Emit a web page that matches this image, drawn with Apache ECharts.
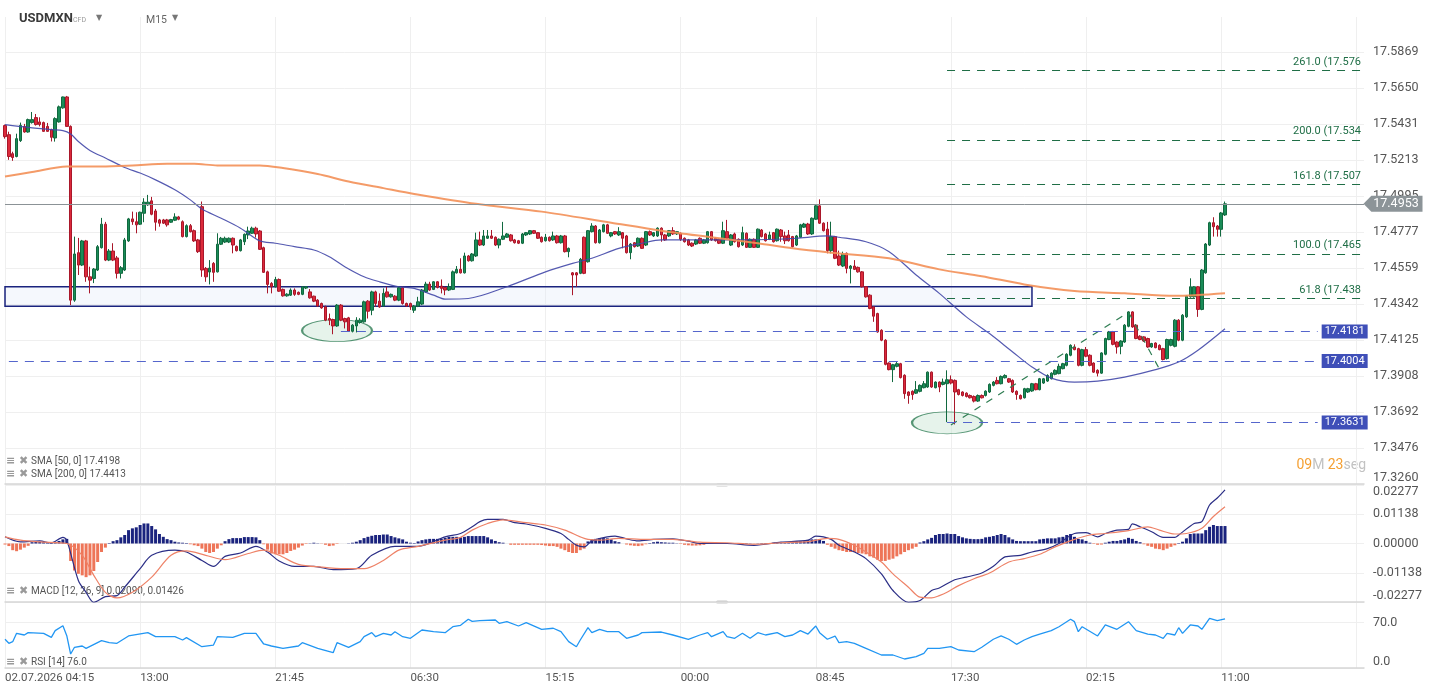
<!DOCTYPE html>
<html>
<head>
<meta charset="utf-8">
<script src="https://cdn.jsdelivr.net/npm/echarts@6/dist/echarts.min.js"></script>
<style>
html, body { margin: 0; padding: 0; background: #fff; }
#chart { width: 1434px; height: 694px; }
</style>
</head>
<body>
<div id="chart"></div>
<script>
// USDMXN CFD, M15
var timeLabels = ['02.07.2026 04:15', '13:00', '21:45', '06:30', '15:15', '00:00', '08:45', '17:30', '02:15', '11:00', '19:45'];
var priceTicks = ['17.3260', '17.3476', '17.3692', '17.3908', '17.4125', '17.4342', '17.4559', '17.4777', '17.4995', '17.5213', '17.5431', '17.5650', '17.5869'];
var macdTicks = ['-0.02277', '-0.01138', '0.00000', '0.01138', '0.02277'];
var rsiTicks = ['0.0', '70.0'];

// open, close, low, high
var candles = [
[17.5426,17.5359,17.5347,17.5432],[17.5371,17.5239,17.5219,17.5389],[17.5256,17.5233,17.5213,17.5268],[17.5239,17.5347,17.5234,17.5377],
[17.5335,17.5427,17.5327,17.5444],[17.5421,17.5387,17.5383,17.5436],[17.5387,17.5462,17.5383,17.5468],[17.5444,17.5462,17.5438,17.5508],
[17.5474,17.5432,17.5426,17.5496],[17.5448,17.5432,17.5421,17.5476],[17.5444,17.5391,17.5389,17.5450],[17.5421,17.5391,17.5389,17.5442],
[17.5401,17.5355,17.5330,17.5407],[17.5351,17.5468,17.5329,17.5476],[17.5448,17.5539,17.5444,17.5547],[17.5533,17.5599,17.5528,17.5601],
[17.5599,17.5421,17.5419,17.5605],[17.5421,17.4371,17.4341,17.5427],[17.4371,17.4650,17.4361,17.4755],[17.4658,17.4583,17.4523,17.4747],
[17.4583,17.4729,17.4577,17.4735],[17.4729,17.4512,17.4482,17.4735],[17.4512,17.4492,17.4412,17.4573],[17.4502,17.4559,17.4474,17.4565],
[17.4553,17.4694,17.4547,17.4704],[17.4688,17.4830,17.4683,17.4868],[17.4830,17.4613,17.4607,17.4844],[17.4613,17.4668,17.4607,17.4680],
[17.4668,17.4613,17.4607,17.4715],[17.4626,17.4533,17.4502,17.4638],[17.4533,17.4567,17.4502,17.4577],[17.4553,17.4735,17.4547,17.4747],
[17.4729,17.4862,17.4723,17.4868],[17.4862,17.4845,17.4826,17.4906],[17.4845,17.4826,17.4775,17.4902],[17.4830,17.4902,17.4826,17.4906],
[17.4896,17.4963,17.4842,17.4987],[17.4947,17.4963,17.4941,17.5007],[17.4971,17.4890,17.4884,17.4995],[17.4910,17.4842,17.4791,17.4922],
[17.4856,17.4836,17.4815,17.4862],[17.4856,17.4836,17.4831,17.4862],[17.4856,17.4826,17.4815,17.4862],[17.4842,17.4858,17.4838,17.4862],
[17.4854,17.4874,17.4849,17.4896],[17.4874,17.4860,17.4854,17.4880],[17.4845,17.4755,17.4750,17.4853],[17.4755,17.4821,17.4750,17.4829],
[17.4821,17.4785,17.4780,17.4831],[17.4791,17.4729,17.4723,17.4798],[17.4735,17.4664,17.4656,17.4741],[17.4936,17.4553,17.4512,17.4967],
[17.4563,17.4512,17.4482,17.4571],[17.4541,17.4565,17.4466,17.4613],[17.4593,17.4539,17.4482,17.4601],[17.4542,17.4709,17.4538,17.4775],
[17.4709,17.4745,17.4704,17.4753],[17.4722,17.4745,17.4716,17.4755],[17.4722,17.4745,17.4716,17.4750],[17.4745,17.4704,17.4654,17.4750],
[17.4696,17.4670,17.4665,17.4701],[17.4670,17.4735,17.4665,17.4741],[17.4724,17.4769,17.4704,17.4774],[17.4765,17.4789,17.4740,17.4815],
[17.4775,17.4806,17.4771,17.4815],[17.4806,17.4771,17.4749,17.4815],[17.4789,17.4678,17.4674,17.4795],[17.4688,17.4539,17.4535,17.4694],
[17.4542,17.4466,17.4412,17.4549],[17.4472,17.4452,17.4412,17.4480],[17.4452,17.4496,17.4447,17.4512],[17.4496,17.4425,17.4421,17.4502],
[17.4436,17.4397,17.4392,17.4441],[17.4397,17.4407,17.4392,17.4413],[17.4401,17.4432,17.4396,17.4442],[17.4432,17.4406,17.4397,17.4442],
[17.4418,17.4406,17.4401,17.4423],[17.4406,17.4452,17.4401,17.4456],[17.4444,17.4452,17.4438,17.4456],[17.4421,17.4385,17.4380,17.4438],
[17.4395,17.4365,17.4359,17.4398],[17.4371,17.4336,17.4331,17.4377],[17.4351,17.4324,17.4319,17.4356],[17.4330,17.4250,17.4244,17.4338],
[17.4260,17.4250,17.4220,17.4290],[17.4254,17.4215,17.4165,17.4259],[17.4215,17.4341,17.4210,17.4347],[17.4341,17.4250,17.4244,17.4347],
[17.4260,17.4240,17.4200,17.4265],[17.4264,17.4183,17.4179,17.4270],[17.4183,17.4220,17.4176,17.4226],[17.4215,17.4250,17.4176,17.4268],
[17.4236,17.4250,17.4229,17.4262],[17.4240,17.4361,17.4235,17.4368],[17.4365,17.4304,17.4260,17.4371],[17.4310,17.4421,17.4280,17.4428],
[17.4421,17.4351,17.4330,17.4428],[17.4365,17.4330,17.4325,17.4412],[17.4336,17.4412,17.4331,17.4442],[17.4421,17.4391,17.4386,17.4452],
[17.4391,17.4406,17.4386,17.4411],[17.4395,17.4371,17.4365,17.4401],[17.4371,17.4446,17.4365,17.4456],[17.4446,17.4351,17.4344,17.4453],
[17.4351,17.4336,17.4331,17.4356],[17.4351,17.4330,17.4312,17.4356],[17.4310,17.4335,17.4294,17.4341],[17.4335,17.4361,17.4329,17.4391],
[17.4347,17.4432,17.4341,17.4438],[17.4421,17.4468,17.4416,17.4482],[17.4468,17.4432,17.4427,17.4482],[17.4436,17.4482,17.4432,17.4486],
[17.4482,17.4448,17.4442,17.4486],[17.4456,17.4442,17.4412,17.4496],[17.4448,17.4432,17.4401,17.4453],[17.4432,17.4452,17.4426,17.4472],
[17.4436,17.4542,17.4432,17.4550],[17.4536,17.4557,17.4532,17.4577],[17.4557,17.4536,17.4532,17.4624],[17.4536,17.4638,17.4532,17.4658],
[17.4638,17.4609,17.4604,17.4644],[17.4609,17.4650,17.4604,17.4656],[17.4638,17.4735,17.4632,17.4779],[17.4735,17.4704,17.4698,17.4785],
[17.4704,17.4759,17.4698,17.4795],[17.4745,17.4759,17.4741,17.4795],[17.4759,17.4745,17.4741,17.4795],[17.4751,17.4704,17.4698,17.4756],
[17.4704,17.4739,17.4684,17.4744],[17.4739,17.4759,17.4734,17.4844],[17.4751,17.4771,17.4747,17.4777],[17.4765,17.4730,17.4725,17.4771],
[17.4735,17.4718,17.4713,17.4741],[17.4730,17.4715,17.4710,17.4735],[17.4715,17.4771,17.4710,17.4777],[17.4765,17.4779,17.4759,17.4783],
[17.4771,17.4791,17.4765,17.4795],[17.4791,17.4775,17.4771,17.4795],[17.4779,17.4745,17.4741,17.4783],[17.4751,17.4724,17.4719,17.4756],
[17.4730,17.4751,17.4725,17.4771],[17.4751,17.4730,17.4725,17.4756],[17.4735,17.4759,17.4729,17.4785],[17.4759,17.4718,17.4713,17.4765],
[17.4718,17.4759,17.4713,17.4765],[17.4759,17.4664,17.4659,17.4765],[17.4664,17.4684,17.4630,17.4689],[17.4536,17.4523,17.4401,17.4541],
[17.4536,17.4523,17.4452,17.4541],[17.4533,17.4618,17.4528,17.4626],[17.4751,17.4533,17.4528,17.4756],[17.4603,17.4791,17.4598,17.4795],
[17.4785,17.4819,17.4780,17.4836],[17.4819,17.4718,17.4713,17.4825],[17.4718,17.4795,17.4713,17.4801],[17.4785,17.4826,17.4780,17.4832],
[17.4826,17.4775,17.4771,17.4832],[17.4759,17.4779,17.4751,17.4783],[17.4785,17.4771,17.4765,17.4789],[17.4765,17.4785,17.4759,17.4812],
[17.4779,17.4745,17.4684,17.4783],[17.4759,17.4658,17.4653,17.4765],[17.4658,17.4710,17.4618,17.4716],[17.4718,17.4694,17.4689,17.4722],
[17.4698,17.4745,17.4692,17.4750],[17.4745,17.4684,17.4680,17.4750],[17.4704,17.4785,17.4698,17.4789],[17.4785,17.4765,17.4759,17.4792],
[17.4759,17.4779,17.4753,17.4783],[17.4759,17.4806,17.4753,17.4811],[17.4806,17.4765,17.4724,17.4811],[17.4765,17.4735,17.4729,17.4771],
[17.4759,17.4791,17.4753,17.4795],[17.4791,17.4771,17.4765,17.4812],[17.4771,17.4785,17.4765,17.4789],[17.4775,17.4739,17.4729,17.4780],
[17.4745,17.4724,17.4719,17.4750],[17.4735,17.4704,17.4698,17.4741],[17.4715,17.4698,17.4692,17.4720],[17.4710,17.4735,17.4704,17.4741],
[17.4745,17.4715,17.4710,17.4750],[17.4715,17.4735,17.4710,17.4741],[17.4718,17.4785,17.4713,17.4789],[17.4785,17.4735,17.4729,17.4789],
[17.4745,17.4730,17.4725,17.4750],[17.4739,17.4715,17.4710,17.4744],[17.4715,17.4791,17.4710,17.4845],[17.4785,17.4745,17.4741,17.4856],
[17.4704,17.4765,17.4698,17.4771],[17.4771,17.4724,17.4719,17.4779],[17.4739,17.4694,17.4689,17.4744],[17.4704,17.4779,17.4698,17.4815],
[17.4775,17.4690,17.4686,17.4780],[17.4690,17.4739,17.4686,17.4744],[17.4739,17.4690,17.4686,17.4744],[17.4690,17.4800,17.4686,17.4804],
[17.4795,17.4755,17.4750,17.4801],[17.4771,17.4730,17.4725,17.4777],[17.4739,17.4765,17.4734,17.4785],[17.4779,17.4724,17.4719,17.4783],
[17.4730,17.4800,17.4725,17.4804],[17.4795,17.4755,17.4724,17.4801],[17.4759,17.4730,17.4710,17.4785],[17.4765,17.4730,17.4725,17.4795],
[17.4755,17.4694,17.4689,17.4759],[17.4704,17.4759,17.4698,17.4765],[17.4751,17.4826,17.4747,17.4832],[17.4812,17.4831,17.4807,17.4838],
[17.4831,17.4771,17.4765,17.4838],[17.4771,17.4866,17.4765,17.4871],[17.4860,17.4941,17.4856,17.4947],[17.4941,17.4836,17.4831,17.4980],
[17.4836,17.4791,17.4786,17.4841],[17.4800,17.4670,17.4654,17.4844],[17.4670,17.4755,17.4654,17.4845],[17.4755,17.4624,17.4619,17.4759],
[17.4638,17.4583,17.4577,17.4670],[17.4577,17.4650,17.4571,17.4664],[17.4654,17.4563,17.4533,17.4659],[17.4563,17.4577,17.4472,17.4583],
[17.4577,17.4557,17.4553,17.4613],[17.4569,17.4542,17.4537,17.4574],[17.4542,17.4452,17.4447,17.4547],[17.4452,17.4391,17.4386,17.4456],
[17.4401,17.4321,17.4316,17.4407],[17.4330,17.4274,17.4240,17.4335],[17.4290,17.4179,17.4174,17.4295],[17.4189,17.4129,17.4123,17.4195],
[17.4129,17.3983,17.3977,17.4135],[17.3991,17.3951,17.3947,17.3995],[17.3951,17.3981,17.3876,17.3986],[17.3971,17.3987,17.3965,17.3997],
[17.3987,17.3903,17.3898,17.3992],[17.3917,17.3806,17.3775,17.3923],[17.3816,17.3795,17.3745,17.3820],[17.3820,17.3800,17.3769,17.3826],
[17.3809,17.3830,17.3804,17.3882],[17.3820,17.3856,17.3814,17.3862],[17.3842,17.3866,17.3838,17.3882],[17.3846,17.3936,17.3841,17.3940],
[17.3936,17.3846,17.3841,17.3940],[17.3842,17.3876,17.3838,17.3880],[17.3876,17.3846,17.3815,17.3880],[17.3862,17.3876,17.3856,17.3897],
[17.3866,17.3890,17.3634,17.3947],[17.3890,17.3870,17.3862,17.3916],[17.3886,17.3816,17.3620,17.3892],[17.3830,17.3801,17.3795,17.3835],
[17.3816,17.3795,17.3789,17.3820],[17.3809,17.3789,17.3783,17.3814],[17.3795,17.3781,17.3777,17.3801],[17.3789,17.3761,17.3753,17.3795],
[17.3761,17.3795,17.3756,17.3801],[17.3795,17.3781,17.3777,17.3801],[17.3795,17.3821,17.3789,17.3826],[17.3816,17.3862,17.3810,17.3868],
[17.3856,17.3876,17.3850,17.3882],[17.3886,17.3866,17.3862,17.3906],[17.3866,17.3910,17.3862,17.3916],[17.3902,17.3916,17.3898,17.3923],
[17.3896,17.3876,17.3871,17.3901],[17.3886,17.3816,17.3810,17.3892],[17.3820,17.3801,17.3769,17.3826],[17.3795,17.3775,17.3771,17.3801],
[17.3781,17.3836,17.3777,17.3841],[17.3816,17.3836,17.3810,17.3841],[17.3822,17.3866,17.3817,17.3871],[17.3866,17.3830,17.3826,17.3871],
[17.3830,17.3896,17.3826,17.3901],[17.3870,17.3896,17.3865,17.3901],[17.3882,17.3916,17.3877,17.3923],[17.3896,17.3930,17.3892,17.3935],
[17.3923,17.3947,17.3917,17.3953],[17.3927,17.3971,17.3923,17.3987],[17.3957,17.3987,17.3953,17.3992],[17.3977,17.4044,17.3971,17.4050],
[17.4038,17.4098,17.4032,17.4104],[17.4088,17.4072,17.4068,17.4104],[17.4078,17.3977,17.3971,17.4083],[17.3977,17.4072,17.3971,17.4077],
[17.4072,17.4032,17.4026,17.4088],[17.4038,17.3977,17.3971,17.4044],[17.3991,17.3936,17.3931,17.3995],[17.3947,17.3930,17.3910,17.3953],
[17.3930,17.4052,17.3926,17.4056],[17.4044,17.4139,17.4038,17.4144],[17.4133,17.4179,17.4129,17.4185],[17.4179,17.4104,17.4098,17.4185],
[17.4118,17.4088,17.4048,17.4122],[17.4092,17.4124,17.4044,17.4129],[17.4118,17.4220,17.4113,17.4226],[17.4213,17.4300,17.4207,17.4304],
[17.4300,17.4209,17.4204,17.4304],[17.4220,17.4139,17.4135,17.4226],[17.4153,17.4133,17.4129,17.4159],[17.4149,17.4124,17.4119,17.4153],
[17.4139,17.4088,17.4083,17.4144],[17.4088,17.4109,17.4083,17.4113],[17.4112,17.4084,17.4080,17.4116],[17.4098,17.4072,17.4068,17.4104],
[17.4078,17.4012,17.4007,17.4083],[17.4018,17.4133,17.4012,17.4138],[17.4098,17.4133,17.4092,17.4138],[17.4092,17.4250,17.4086,17.4256],
[17.4250,17.4129,17.4123,17.4256],[17.4129,17.4280,17.4123,17.4287],[17.4270,17.4395,17.4264,17.4401],[17.4391,17.4452,17.4386,17.4503],
[17.4391,17.4452,17.4386,17.4456],[17.4452,17.4315,17.4270,17.4456],[17.4315,17.4553,17.4310,17.4559],[17.4536,17.4710,17.4531,17.4716],
[17.4704,17.4839,17.4698,17.4845],[17.4839,17.4815,17.4755,17.4872],[17.4819,17.4799,17.4755,17.4825],[17.4799,17.4898,17.4755,17.4904],
[17.4886,17.4953,17.4880,17.4967]
];

// medias moviles [vela, valor]
var sma50 = [[0,17.5432],[6,17.5415],[12,17.5401],[15,17.5395],[17,17.5375],[19,17.5330],[22,17.5276],[26,17.5230],[31,17.5173],[35,17.5139],
[39,17.5098],[44,17.5038],[48,17.4977],[51,17.4922],[56,17.4866],[61,17.4806],[66,17.4729],[70,17.4715],[75,17.4694],[80,17.4674],
[84,17.4633],[88,17.4573],[93,17.4512],[97,17.4482],[102,17.4452],[106,17.4442],[111,17.4401],[114,17.4377],[120,17.4381],[130,17.4452],
[140,17.4542],[147,17.4593],[152,17.4624],[159,17.4684],[165,17.4715],[170,17.4735],[176,17.4735],[183,17.4735],[191,17.4735],[200,17.4739],
[205,17.4745],[213,17.4759],[216,17.4751],[223,17.4724],[229,17.4664],[236,17.4523],[242,17.4412],[249,17.4270],[255,17.4169],[261,17.4058],
[266,17.3967],[271,17.3900],[277,17.3876],[283,17.3882],[290,17.3906],[298,17.3951],[304,17.3997],[309,17.4068],[316,17.4198]];
var sma200 = [[0,17.5118],[7,17.5145],[16,17.5179],[25,17.5179],[33,17.5185],[42,17.5195],[49,17.5195],[55,17.5185],[66,17.5185],[72,17.5169],
[81,17.5133],[89,17.5088],[98,17.5048],[106,17.5013],[122,17.4953],[139,17.4906],[157,17.4839],[170,17.4791],[183,17.4751],[195,17.4715],
[204,17.4684],[214,17.4658],[229,17.4624],[242,17.4557],[253,17.4516],[264,17.4466],[277,17.4426],[290,17.4412],[303,17.4397],[316,17.4413]];

// MACD 12,26,9
var macdHist = [
-0.0004,-0.0010,-0.0026,-0.0030,-0.0024,-0.0016,-0.0009,0.0005,0.0006,0.0006,0.0005,0.0005,0.0004,0.0006,0.0010,0.0016,0.0018,
-0.0068,-0.0105,-0.0118,-0.0124,-0.0131,-0.0124,-0.0107,-0.0072,-0.0033,-0.0016,0.0002,0.0009,0.0013,0.0024,0.0033,0.0052,0.0059,
0.0063,0.0072,0.0078,0.0078,0.0068,0.0055,0.0037,0.0026,0.0017,0.0013,0.0007,0.0004,0.0003,0.0002,-0.0003,-0.0007,-0.0010,-0.0020,
-0.0033,-0.0037,-0.0033,-0.0020,-0.0007,0.0009,0.0017,0.0021,0.0021,0.0021,0.0025,0.0025,0.0025,0.0024,0.0013,-0.0003,-0.0024,
-0.0039,-0.0042,-0.0042,-0.0042,-0.0037,-0.0029,-0.0024,-0.0016,-0.0008,-0.0002,0.0001,0.0003,0.0001,-0.0001,-0.0005,-0.0010,
-0.0008,-0.0002,0,0,0.0001,0.0003,0.0007,0.0013,0.0021,0.0026,0.0030,0.0033,0.0033,0.0035,0.0035,0.0029,0.0024,0.0020,0.0016,
0.0007,0.0003,0.0002,0.0008,0.0013,0.0016,0.0018,0.0018,0.0018,0.0018,0.0022,0.0026,0.0026,0.0026,0.0024,0.0026,0.0029,0.0029,
0.0029,0.0029,0.0029,0.0024,0.0016,0.0010,0.0005,0.0003,0,-0.0005,-0.0005,-0.0005,-0.0005,-0.0005,-0.0005,-0.0005,-0.0005,-0.0006,
-0.0008,-0.0010,-0.0010,-0.0013,-0.0020,-0.0026,-0.0033,-0.0037,-0.0037,-0.0026,-0.0020,0.0008,0.0016,0.0018,0.0020,0.0021,0.0020,
0.0016,0.0009,0.0005,0,-0.0004,-0.0007,-0.0009,-0.0010,-0.0008,-0.0003,0.0002,0.0005,0.0007,0.0005,0.0004,0.0003,0.0003,0.0001,
-0.0002,-0.0005,-0.0007,-0.0008,-0.0008,-0.0007,-0.0005,-0.0002,0.0001,-0.0001,0.0001,0.0002,0.0001,-0.0001,-0.0002,-0.0001,0.0001,
0.0002,0.0001,-0.0001,0.0001,0.0002,0.0002,0.0002,0.0003,0.0002,0.0003,0.0003,0.0004,0.0005,0.0007,0.0009,0.0009,0.0013,0.0016,
0.0016,0.0016,0.0010,-0.0005,-0.0013,-0.0020,-0.0026,-0.0029,-0.0033,-0.0033,-0.0033,-0.0037,-0.0039,-0.0042,-0.0050,-0.0055,
-0.0063,-0.0068,-0.0068,-0.0063,-0.0059,-0.0050,-0.0042,-0.0033,-0.0026,-0.0020,-0.0013,0.0004,0.0009,0.0016,0.0022,0.0033,0.0037,
0.0037,0.0039,0.0037,0.0037,0.0029,0.0024,0.0020,0.0018,0.0017,0.0017,0.0018,0.0024,0.0026,0.0029,0.0033,0.0037,0.0033,0.0024,
0.0016,0.0010,0.0009,0.0009,0.0009,0.0009,0.0009,0.0016,0.0018,0.0020,0.0020,0.0020,0.0024,0.0026,0.0033,0.0037,0.0026,0.0018,
0.0016,0.0010,0.0003,-0.0002,-0.0005,-0.0004,0.0003,0.0007,0.0010,0.0010,0.0013,0.0016,0.0022,0.0018,0.0010,0.0005,-0.0003,-0.0009,
-0.0013,-0.0020,-0.0022,-0.0026,-0.0020,-0.0013,-0.0007,0.0002,0.0007,0.0020,0.0037,0.0039,0.0039,0.0039,0.0052,0.0065,0.0072,
0.0068,0.0068,0.0068
];
var macdLine = [[0,0.0026],[4,0.0006],[9,0.0010],[12,0.0002],[15,0.0024],[16,0.0013],[19,-0.0144],[21,-0.0190],[23,-0.0229],[26,-0.0207],
[29,-0.0203],[31,-0.0170],[35,-0.0098],[38,-0.0046],[44,-0.0026],[47,-0.0033],[51,-0.0066],[54,-0.0089],[57,-0.0050],[61,-0.0037],
[65,-0.0011],[68,-0.0033],[71,-0.0068],[75,-0.0089],[80,-0.0089],[85,-0.0102],[91,-0.0098],[95,-0.0046],[101,-0.0011],[107,-0.0011],
[114,0.0026],[118,0.0039],[121,0.0065],[123,0.0085],[125,0.0094],[129,0.0094],[132,0.0081],[135,0.0076],[140,0.0059],[144,0.0039],
[146,0.0016],[148,-0.0007],[150,-0.0013],[152,0.0010],[156,0.0026],[158,0.0029],[161,0.0018],[164,0.0010],[168,0.0016],[173,0.0018],
[177,0.0009],[180,0],[187,0],[194,-0.0007],[201,0.0005],[208,0.0013],[210,0.0029],[212,0.0026],[214,0.0016],[216,-0.0007],
[220,-0.0033],[223,-0.0059],[227,-0.0118],[230,-0.0183],[234,-0.0229],[237,-0.0222],[240,-0.0183],[242,-0.0173],[246,-0.0141],[249,-0.0131],
[253,-0.0115],[256,-0.0089],[259,-0.0052],[263,-0.0046],[266,-0.0033],[270,-0.0020],[273,0],[277,0.0039],[280,0.0042],[283,0.0026],
[285,0.0039],[288,0.0052],[291,0.0055],[292,0.0076],[294,0.0065],[297,0.0046],[300,0.0024],[303,0.0024],[304,0.0033],[308,0.0078],
[310,0.0085],[312,0.0150],[314,0.0177],[316,0.0209]];
var macdSignal = [[0,0.0026],[4,0.0013],[9,0.0006],[16,0],[20,-0.0046],[23,-0.0124],[26,-0.0190],[29,-0.0212],[33,-0.0190],[38,-0.0131],
[43,-0.0046],[47,-0.0029],[52,-0.0046],[57,-0.0063],[63,-0.0039],[67,-0.0026],[71,-0.0046],[76,-0.0081],[82,-0.0092],[88,-0.0098],
[93,-0.0098],[98,-0.0066],[102,-0.0026],[107,-0.0011],[114,0.0013],[118,0.0024],[121,0.0052],[125,0.0078],[129,0.0092],[135,0.0081],
[140,0.0072],[145,0.0052],[149,0.0026],[151,0.0016],[154,0.0013],[159,0.0020],[166,0.0016],[173,0.0016],[180,0.0005],[187,0.0003],
[194,-0.0003],[201,0.0003],[208,0.0007],[213,0.0020],[216,0.0016],[220,-0.0007],[223,-0.0033],[227,-0.0072],[230,-0.0118],[234,-0.0170],
[237,-0.0209],[240,-0.0212],[242,-0.0203],[244,-0.0190],[247,-0.0164],[251,-0.0137],[255,-0.0115],[260,-0.0072],[264,-0.0059],[268,-0.0042],
[272,-0.0013],[277,0.0016],[281,0.0033],[285,0.0039],[291,0.0050],[296,0.0065],[299,0.0052],[303,0.0037],[306,0.0039],[310,0.0059],
[313,0.0105],[316,0.0143]];

// RSI 14
var rsi = [[0,44.4],[1,38.2],[2,40.7],[3,53.6],[5,51],[6,54.6],[10,53.6],[12,47.4],[13,57.7],[15,65.4],[16,50],[17,21.6],[18,32],[20,34],
[21,30.4],[25,42.2],[27,39.1],[29,38.2],[32,49.5],[37,54.6],[39,48.4],[44,48.4],[46,43.3],[47,47],[51,32.9],[54,35.5],[55,48.4],[59,47.4],
[62,53.6],[65,53.6],[67,37.1],[69,34],[72,30.4],[76,34],[77,39.1],[81,30.4],[85,23.7],[86,39.1],[89,32],[92,40.7],[93,48.4],[95,54.6],
[96,48.4],[98,53.6],[100,51],[101,56.1],[103,48.4],[105,45.9],[108,58.7],[111,56.1],[114,54.6],[116,63.8],[118,66],[120,75.3],[121,72],
[123,73.1],[127,74.2],[128,69],[130,71.6],[133,64.9],[135,70],[139,59.8],[142,61.4],[144,56.1],[146,40.7],[148,32.9],[149,43.3],[151,62.3],
[152,54.6],[154,59.8],[156,56.1],[159,56.1],[161,45.9],[164,51],[165,54.6],[170,55.6],[173,51],[177,44.4],[180,51],[182,54.6],[183,48.4],
[186,56.1],[187,48.4],[189,45.9],[191,53.6],[193,45.9],[195,54.6],[197,51],[200,54.6],[202,48.4],[204,51],[206,57.7],[208,52.5],[210,64.9],
[211,54.6],[213,44.4],[215,49.4],[216,39.1],[218,40.7],[220,38.2],[223,30.4],[227,20.1],[230,20.1],[233,13.9],[236,17.5],[238,22.7],
[239,30.4],[242,30.4],[245,32.9],[247,27.8],[251,25.2],[253,32],[256,44.4],[258,49.5],[260,44.4],[262,36.6],[264,43.3],[266,48.4],
[268,52.5],[271,57.7],[273,63.8],[276,75.3],[277,71.6],[278,56.1],[279,63.8],[283,49.5],[285,66.5],[288,59.8],[291,71.6],[293,57.7],
[296,52.5],[298,51],[300,45.9],[301,53.6],[303,51],[304,62.3],[305,53.6],[307,66.5],[309,64.9],[310,59.8],[312,76.8],[314,73.1],[316,76.0]];

// anotaciones
var lastPrice = 17.4953;
var zone = [17.4452, 17.4334];
var fibLevels = [
    {text: '261.0 (17.576', value: 17.576},
    {text: '200.0 (17.534', value: 17.534},
    {text: '161.8 (17.507', value: 17.507},
    {text: '100.0 (17.465', value: 17.465},
    {text: '61.8 (17.438', value: 17.438}
];
var supports = [
    {value: 17.4181, from: 87},
    {value: 17.4004, from: 1},
    {value: 17.3631, from: 244}
];
var lows = [[86, 17.4187], [244, 17.3630]];
var swing = [[245, 17.3617], [291, 17.4298], [299, 17.3955]];

var slotCount = 353;
var slots = [];
for (var i = 0; i < slotCount; i++) slots.push(String(i));
var lastSlot = slotCount - 1;

var priceMin = 17.3260, priceStep = 0.0217417;
var priceMax = priceMin + 12.98 * priceStep;
var macdMin = -0.02277, macdStep = 0.011385;
var FONT = 'Roboto';
var GRID_COLOR = '#efefef';

function tickLabel(list, min, step) {
    return function (v) {
        var k = Math.round((v - min) / step);
        if (Math.abs(v - (min + k * step)) > step * 0.02) return '';
        return list[k] || '';
    };
}

function makeXAxis(gridIndex, withLabels) {
    return {
        type: 'category',
        gridIndex: gridIndex,
        data: slots,
        boundaryGap: false,
        axisLine: {show: true, onZero: false, lineStyle: {color: '#d6d6d6', width: 1.5}},
        axisTick: {show: false},
        axisLabel: {
            show: withLabels,
            interval: 34,
            align: 'left',
            margin: 4,
            color: '#555',
            fontSize: 11.5,
            fontFamily: FONT,
            showMaxLabel: false,
            formatter: function (val, idx) {
                return idx % 35 === 0 ? (timeLabels[idx / 35] || '') : '';
            }
        },
        splitLine: {show: true, interval: 34, lineStyle: {color: GRID_COLOR}}
    };
}

function initChart() {
    var myChart = echarts.init(document.getElementById('chart'));

    var markLines = [
        {yAxis: lastPrice, lineStyle: {color: '#8b9296', type: 'solid', width: 1}, label: {show: false}}
    ];
    fibLevels.forEach(function (f) {
        var style = {color: '#1f6e46', type: [8, 7], width: 1.2};
        markLines.push([
            {
                coord: [244, f.value],
                lineStyle: style,
                label: {
                    show: true, position: 'insideEndTop', distance: 3,
                    formatter: f.text, color: '#1f6e46', fontSize: 11, fontFamily: FONT
                }
            },
            {coord: [lastSlot - 0.3, f.value], lineStyle: style}
        ]);
    });
    supports.forEach(function (s) {
        var style = {color: '#5566cc', type: [9, 7], width: 1.2};
        markLines.push([
            {
                coord: [s.from, s.value],
                lineStyle: style,
                label: {
                    show: true, position: 'end', distance: 4,
                    formatter: s.value.toFixed(4), color: '#fff', fontSize: 11, fontFamily: FONT,
                    backgroundColor: '#3f4fb8', padding: [2, 3, 1, 3]
                }
            },
            {coord: [340, s.value], lineStyle: style}
        ]);
    });

    var option = {
        animation: false,
        grid: [
            {left: 5, right: 70, top: 17, height: 467},
            {left: 5, right: 70, top: 485, height: 117},
            {left: 5, right: 70, top: 602, height: 66}
        ],
        xAxis: [makeXAxis(0, false), makeXAxis(1, false), makeXAxis(2, true)],
        yAxis: [
            {
                type: 'value', gridIndex: 0, position: 'right',
                min: priceMin, max: priceMax, interval: priceStep,
                axisLine: {show: false}, axisTick: {show: false},
                axisLabel: {
                    color: '#555', fontSize: 12.5, fontFamily: FONT, margin: 9,
                    verticalAlignMinLabel: 'bottom',
                    formatter: tickLabel(priceTicks, priceMin, priceStep)
                },
                splitLine: {showMaxLine: false, lineStyle: {color: GRID_COLOR}}
            },
            {
                type: 'value', gridIndex: 1, position: 'right',
                min: macdMin, max: -macdMin, interval: macdStep,
                axisLine: {show: false}, axisTick: {show: false},
                axisLabel: {
                    color: '#555', fontSize: 12.5, fontFamily: FONT, margin: 9,
                    verticalAlignMinLabel: 'bottom', verticalAlignMaxLabel: 'top',
                    formatter: tickLabel(macdTicks, macdMin, macdStep)
                },
                splitLine: {lineStyle: {color: GRID_COLOR}}
            },
            {
                type: 'value', gridIndex: 2, position: 'right',
                min: 0, max: 102, interval: 70,
                axisLine: {show: false}, axisTick: {show: false},
                axisLabel: {
                    color: '#555', fontSize: 12.5, fontFamily: FONT, margin: 9,
                    verticalAlignMinLabel: 'bottom',
                    formatter: tickLabel(rsiTicks, 0, 70)
                },
                splitLine: {lineStyle: {color: GRID_COLOR}}
            }
        ],
        series: [
            {
                name: 'lows',
                type: 'scatter',
                z: 1,
                silent: true,
                symbol: 'circle',
                symbolSize: [70, 22],
                itemStyle: {color: 'rgba(198,228,210,0.55)', borderColor: '#2f7d55', borderWidth: 1.3},
                data: lows
            },
            {
                name: 'USDMXN',
                type: 'candlestick',
                clip: false,
                barWidth: 3,
                data: candles,
                itemStyle: {
                    color: '#1a8c58',
                    color0: '#dc2a3b',
                    borderColor: '#11693f',
                    borderColor0: '#a9172a',
                    borderWidth: 1
                },
                markArea: {
                    silent: true,
                    itemStyle: {color: 'rgba(226,234,250,0.35)', borderColor: '#1a237e', borderWidth: 1.5},
                    data: [[{coord: [0, zone[0]]}, {coord: [266, zone[1]]}]]
                },
                markLine: {
                    silent: true,
                    precision: 4,
                    symbol: ['none', 'none'],
                    data: markLines
                },
                markPoint: {
                    silent: true,
                    data: [{
                        coord: [lastSlot - 0.1, lastPrice],
                        symbol: 'path://M0,8 L8,0 L60,0 L60,16 L8,16 Z',
                        symbolSize: [59, 16],
                        symbolOffset: [29, 0],
                        itemStyle: {color: '#8c9498'},
                        label: {
                            show: true, formatter: lastPrice.toFixed(4), color: '#fff',
                            fontSize: 12.5, fontFamily: FONT, offset: [3, 0]
                        }
                    }]
                }
            },
            {
                name: 'SMA 50',
                type: 'line',
                smooth: 0.3,
                showSymbol: false,
                data: sma50,
                lineStyle: {color: '#4248a8', width: 1.2, opacity: 0.9}
            },
            {
                name: 'SMA 200',
                type: 'line',
                smooth: 0.3,
                showSymbol: false,
                data: sma200,
                lineStyle: {color: '#f39058', width: 2, opacity: 0.9}
            },
            {
                name: 'swing',
                type: 'line',
                showSymbol: false,
                silent: true,
                data: swing,
                lineStyle: {color: '#2e7d52', width: 1.2, type: [7, 7]}
            },
            {
                name: 'MACD hist',
                type: 'bar',
                xAxisIndex: 1,
                yAxisIndex: 1,
                barWidth: 3,
                data: macdHist,
                itemStyle: {
                    color: function (p) { return p.value >= 0 ? '#1a237e' : '#ee7558'; }
                }
            },
            {
                name: 'MACD',
                type: 'line',
                xAxisIndex: 1,
                yAxisIndex: 1,
                smooth: 0.3,
                showSymbol: false,
                data: macdLine,
                lineStyle: {color: '#2b2e86', width: 1.2}
            },
            {
                name: 'Signal',
                type: 'line',
                xAxisIndex: 1,
                yAxisIndex: 1,
                smooth: 0.3,
                showSymbol: false,
                data: macdSignal,
                lineStyle: {color: '#ee8267', width: 1.2}
            },
            {
                name: 'RSI',
                type: 'line',
                xAxisIndex: 2,
                yAxisIndex: 2,
                showSymbol: false,
                data: rsi,
                lineStyle: {color: '#2196f3', width: 1.3}
            }
        ],
        graphic: [
            {type: 'text', x: 19, y: 19, style: {text: 'USDMXN', fill: '#3a3a3a', font: 'bold 13px Roboto', verticalAlign: 'middle'}},
            {type: 'text', x: 73, y: 20, style: {text: 'CFD', fill: '#999', font: '7px Roboto', verticalAlign: 'middle'}},
            {type: 'text', x: 96, y: 18, style: {text: '▼', fill: '#777', font: '8px DejaVu Sans', verticalAlign: 'middle'}},
            {type: 'text', x: 146, y: 20, style: {text: 'M15', fill: '#666', font: '10.5px Roboto', verticalAlign: 'middle'}},
            {type: 'text', x: 172, y: 18, style: {text: '▼', fill: '#777', font: '8px DejaVu Sans', verticalAlign: 'middle'}},

            {type: 'text', x: 6, y: 461, style: {text: '≡ ✖', fill: '#9a9a9a', font: 'bold 11px DejaVu Sans', verticalAlign: 'middle'}},
            {type: 'text', x: 31, y: 461, style: {text: 'SMA [50, 0] 17.4198', fill: '#555', font: '10px Roboto', verticalAlign: 'middle'}},
            {type: 'text', x: 6, y: 474, style: {text: '≡ ✖', fill: '#9a9a9a', font: 'bold 11px DejaVu Sans', verticalAlign: 'middle'}},
            {type: 'text', x: 31, y: 474, style: {text: 'SMA [200, 0] 17.4413', fill: '#555', font: '10px Roboto', verticalAlign: 'middle'}},
            {type: 'text', x: 6, y: 591, style: {text: '≡ ✖', fill: '#9a9a9a', font: 'bold 11px DejaVu Sans', verticalAlign: 'middle'}},
            {type: 'text', x: 31, y: 591, style: {text: 'MACD [12, 26, 9] 0.02090, 0.01426', fill: '#555', font: '10px Roboto', verticalAlign: 'middle'}},
            {type: 'text', x: 6, y: 662, style: {text: '≡ ✖', fill: '#9a9a9a', font: 'bold 11px DejaVu Sans', verticalAlign: 'middle'}},
            {type: 'text', x: 31, y: 662, style: {text: 'RSI [14] 76.0', fill: '#555', font: '10px Roboto', verticalAlign: 'middle'}},

            {
                type: 'text', x: 1366, y: 465,
                style: {
                    text: '{a|09}{b|M} {a|23}{b|seg}',
                    align: 'right', verticalAlign: 'middle',
                    rich: {
                        a: {fill: '#f5a033', font: '14px Roboto'},
                        b: {fill: '#c2c2c2', font: '14px Roboto'}
                    }
                }
            },
            {type: 'rect', shape: {x: 716, y: 483.5, width: 12, height: 3, r: 1.5}, style: {fill: '#c8c8c8'}},
            {type: 'rect', shape: {x: 716, y: 600.5, width: 12, height: 3, r: 1.5}, style: {fill: '#c8c8c8'}}
        ]
    };
    myChart.setOption(option);
}

initChart();
</script>
</body>
</html>
